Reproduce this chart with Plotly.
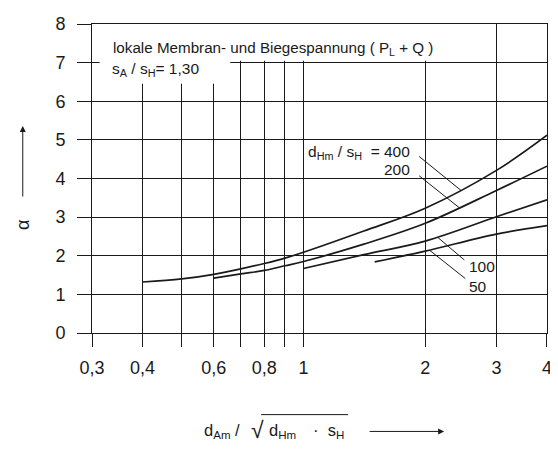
import plotly.graph_objects as go

# ---- data ----
x_400 = [0.4, 0.5, 0.6, 0.7, 0.8, 0.9, 1.0, 1.41, 2.0, 3.0, 4.0]
y_400 = [1.32, 1.40, 1.52, 1.66, 1.80, 1.94, 2.09, 2.64, 3.23, 4.21, 5.12]

x_200 = [0.6, 0.7, 0.8, 0.9, 1.0, 1.41, 2.0, 3.0, 4.0]
y_200 = [1.42, 1.53, 1.62, 1.74, 1.85, 2.30, 2.84, 3.69, 4.32]

x_100 = [1.0, 1.41, 2.0, 3.0, 4.0]
y_100 = [1.67, 2.03, 2.38, 3.01, 3.45]

x_50 = [1.5, 2.0, 3.0, 4.0]
y_50 = [1.84, 2.12, 2.56, 2.78]

x_tickvals = [0.3, 0.4, 0.5, 0.6, 0.7, 0.8, 0.9, 1, 2, 3, 4]
x_ticktext = ["0,3", "0,4", "", "0,6", "", "0,8", "", "1", "2", "3", "4"]
y_tickvals = [0, 1, 2, 3, 4, 5, 6, 7, 8]

series = [(x_400, y_400), (x_200, y_200), (x_100, y_100), (x_50, y_50)]

FONT = "Liberation Sans, Arial, sans-serif"
INK = "#1a1a1a"
TXT = 15.5

# page -> paper helpers (page has an 8px body margin; plot area spans 92..552 x 15..333)
def px(page_x):
    return (page_x - 92.0) / 460.0


def py(page_y):
    return (333.0 - page_y) / 318.0


fig = go.Figure()
for xs, ys in series:
    fig.add_trace(go.Scatter(x=xs, y=ys, mode="lines",
                             line=dict(color=INK, width=1.7, shape="spline", smoothing=1.0),
                             hoverinfo="skip", showlegend=False))

shapes = []
# white masks behind the header text (between gridlines and traces)
shapes.append(dict(type="rect", xref="x", yref="y", x0=0.3133, x1=0.659, y0=6.45, y1=8,
                   fillcolor="white", line=dict(width=0), layer="between"))
shapes.append(dict(type="rect", xref="x", yref="y", x0=0.659, x1=2.035, y0=7.05, y1=8,
                   fillcolor="white", line=dict(width=0), layer="between"))
# leader lines for the curve labels (data coordinates)
leaders = [((1.932, 4.57), (2.453, 3.69)),
           ((1.932, 4.07), (2.43, 3.24)),
           ((2.151, 2.47), (2.499, 1.89)),
           ((2.052, 2.14), (2.512, 1.41))]
for (xa, ya), (xb, yb) in leaders:
    shapes.append(dict(type="line", xref="x", yref="y", x0=xa, y0=ya, x1=xb, y1=yb,
                       line=dict(color=INK, width=1)))
# overline of the square root in the x-axis title
shapes.append(dict(type="line", xref="paper", yref="paper", x0=px(263), x1=px(351),
                   y0=py(417), y1=py(417), line=dict(color=INK, width=1)))

ann = []
ann.append(dict(text="lokale Membran- und Biegespannung ( P<sub>L</sub> + Q )",
                xref="paper", yref="paper", x=px(111), y=py(40), xanchor="left", yanchor="middle",
                showarrow=False, font=dict(size=15.2)))
ann.append(dict(text="s<sub>A</sub> / s<sub>H</sub>= 1,30",
                xref="paper", yref="paper", x=px(110), y=py(62), xanchor="left", yanchor="middle",
                showarrow=False, font=dict(size=TXT)))
ann.append(dict(text="d<sub>Hm</sub> / s<sub>H</sub>  = 400",
                xref="paper", yref="paper", x=px(416), y=py(147), xanchor="right", yanchor="middle",
                showarrow=False, font=dict(size=TXT)))
ann.append(dict(text="200", xref="paper", yref="paper", x=px(416), y=py(164.5),
                xanchor="right", yanchor="middle", showarrow=False, font=dict(size=TXT)))
ann.append(dict(text="100", xref="paper", yref="paper", x=px(471.5), y=py(265),
                xanchor="left", yanchor="middle", showarrow=False, font=dict(size=TXT)))
ann.append(dict(text="50", xref="paper", yref="paper", x=px(471.5), y=py(285),
                xanchor="left", yanchor="middle", showarrow=False, font=dict(size=TXT)))
# y title alpha + arrow
ann.append(dict(text="α", xref="paper", yref="paper", x=px(22), y=py(222),
                xanchor="center", yanchor="middle", textangle=-90, showarrow=False,
                font=dict(size=18)))
ann.append(dict(text="", xref="paper", yref="paper", x=px(22), y=py(120),
                ax=0, ay=72, showarrow=True, arrowhead=2, arrowsize=1.2, arrowwidth=1,
                arrowcolor=INK))
# x title pieces + arrow
XT = 16.5
ann.append(dict(text="d<sub>Am</sub> /", xref="paper", yref="paper", x=px(203), y=py(434),
                xanchor="left", yanchor="middle", showarrow=False, font=dict(size=XT)))
ann.append(dict(text="√", xref="paper", yref="paper", x=px(251), y=py(433),
                xanchor="left", yanchor="middle", showarrow=False, font=dict(size=23)))
ann.append(dict(text="d<sub>Hm</sub>", xref="paper", yref="paper", x=px(269), y=py(434),
                xanchor="left", yanchor="middle", showarrow=False, font=dict(size=XT)))
ann.append(dict(text="·\u00a0\u00a0s<sub>H</sub>", xref="paper", yref="paper", x=px(313), y=py(434),
                xanchor="left", yanchor="middle", showarrow=False, font=dict(size=XT)))
ann.append(dict(text="", xref="paper", yref="paper", x=px(448), y=py(434.3),
                ax=-76, ay=0, showarrow=True, arrowhead=2,
                arrowsize=1.2, arrowwidth=1, arrowcolor=INK))

axis_common = dict(showgrid=True, gridcolor=INK, gridwidth=1, showline=True, linecolor=INK,
                   linewidth=1, mirror=True, ticks="outside", tickcolor=INK, tickwidth=1,
                   zeroline=False, tickfont=dict(size=18, color=INK),
                   ticklabeloverflow="allow")

fig.update_layout(
    width=550, height=441,
    margin=dict(l=84, r=6, t=7, b=116),
    paper_bgcolor="white", plot_bgcolor="white",
    font=dict(family=FONT, color=INK),
    xaxis=dict(type="log", range=[-0.5229, 0.6021], tickvals=x_tickvals, ticktext=x_ticktext,
               ticklen=13, ticklabelstandoff=5, **axis_common),
    yaxis=dict(range=[0, 8], tickvals=y_tickvals, ticklen=14, ticklabelstandoff=8,
               **axis_common),
    shapes=shapes, annotations=ann,
)

fig.write_html("out.html")
